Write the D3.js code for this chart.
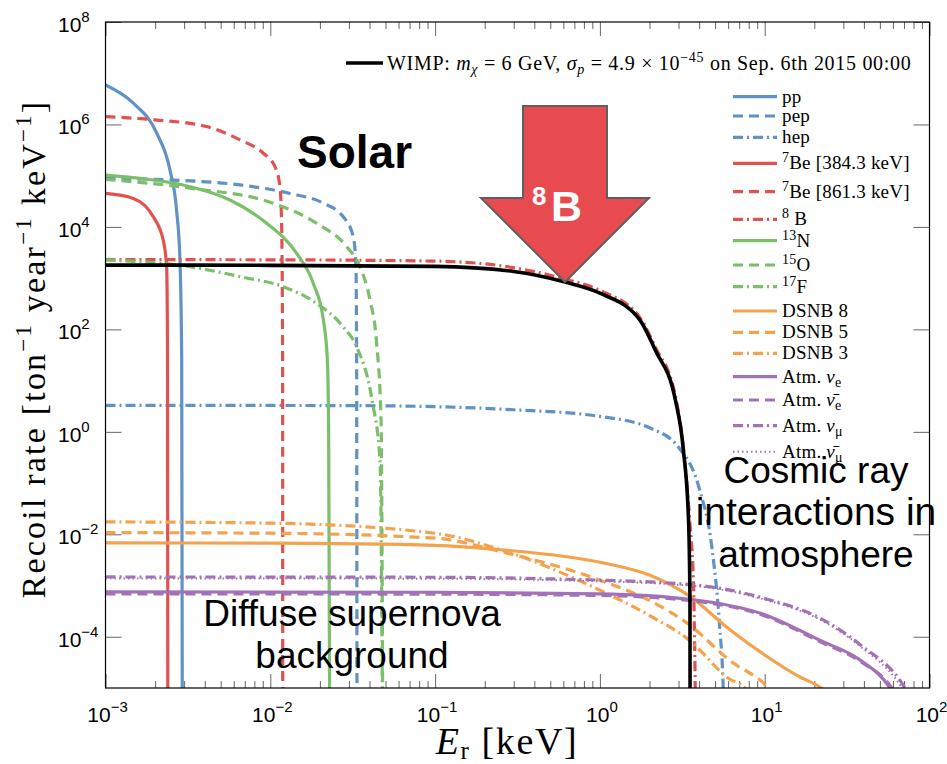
<!DOCTYPE html>
<html>
<head>
<meta charset="utf-8">
<script src="https://cdn.jsdelivr.net/npm/d3@7/dist/d3.min.js"></script>
<style>
  html, body { margin: 0; padding: 0; background: #fff; }
  svg { display: block; }
</style>
</head>
<body>
<svg id="chart" width="947" height="764"></svg>
<script>
// Neutrino-floor recoil spectra: [recoil energy keV, rate ton^-1 yr^-1 keV^-1]
const pp       = [[1e-3,5.9e6],[1.475e-3,2.6e6],[2.05e-3,6.7e5],[2.46e-3,1.3e5],[2.7e-3,2.1e4],[2.83e-3,2.3e3],[2.9e-3,25],[2.93e-3,1e-7]];
const pep      = [[1e-3,8.9e4],[2.58e-3,8.2e4],[6.55e-3,6.6e4],[1.317e-2,4.5e4],[2.1e-2,2.9e4],[2.77e-2,1.58e4],[3.19e-2,6.4e3],[3.31e-2,1.67e3],[3.34e-2,25],[3.36e-2,1e-7]];
const hep      = [[1e-3,3.3],[0.03,3.25],[0.1,3.1],[0.3,2.7],[1,2.0],[2,1.2],[3,0.5],[4,0.08],[4.8,5e-3],[5.3,2e-4],[5.6,1e-5],[5.8,1e-7]];
const be7a     = [[1e-3,4.5e4],[1.475e-3,3.6e4],[1.95e-3,1.58e4],[2.24e-3,5.5e3],[2.35e-3,1.67e3],[2.38e-3,25],[2.39e-3,1e-7]];
const be7b     = [[1e-3,1.42e6],[2.05e-3,1.22e6],[4.11e-3,9.1e5],[6.55e-3,5.0e5],[9.07e-3,2.74e5],[1.068e-2,1.5e5],[1.145e-2,6.1e4],[1.172e-2,1.0e4],[1.188e-2,25],[1.19e-2,1e-7]];
const b8       = [[1e-3,2.3e3],[0.01,2.28e3],[0.1,2.15e3],[0.3,1.6e3],[0.614,9.6e2],[1,5.8e2],[1.75,1.7e2],[2.17,45],[2.87,5],[3.21,0.5],[3.5,0.02],[3.7,1e-3],[3.85,1e-7]];
const n13      = [[1e-3,1.03e5],[1.62e-3,8.9e4],[3.26e-3,6.1e4],[5.69e-3,3.35e4],[9.51e-3,1.175e4],[1.445e-2,3.05e3],[1.824e-2,7.9e2],[2.1e-2,1.52e2],[2.22e-2,25],[2.26e-2,1],[2.3e-2,1e-7]];
const o15      = [[1e-3,8.5e4],[3.26e-3,5.7e4],[1.04e-2,2.9e4],[1.913e-2,1.175e4],[2.91e-2,4.1e3],[3.5e-2,1.67e3],[4.03e-2,3.7e2],[4.42e-2,53],[4.7e-2,1.7],[4.83e-2,1e-7]];
const f17      = [[1e-3,2.26e3],[3.26e-3,1.67e3],[6.55e-3,1.07e3],[1.2e-2,6.8e2],[1.913e-2,3.2e2],[2.77e-2,1.12e2],[3.34e-2,46],[4.14e-2,4.2],[4.63e-2,0.28],[4.83e-2,1e-7]];
const dsnb8    = [[1e-3,6.8e-3],[0.01,6.7e-3],[0.1,6.1e-3],[0.25,5.0e-3],[1,2.85e-3],[2,1.6e-3],[3.5,6.2e-4],[6.1,1.4e-4],[10,4.4e-5],[16,1.7e-5],[22,1e-5],[25,7e-6]];
const dsnb5    = [[1e-3,1.08e-2],[0.01,1.05e-2],[0.1,8.4e-3],[0.25,4.6e-3],[1,1.27e-3],[2,5.1e-4],[3.5,1.7e-4],[6.1,3.5e-5],[10.5,1e-5],[11.5,7e-6]];
const dsnb3    = [[1e-3,1.75e-2],[0.01,1.65e-2],[0.1,1.05e-2],[0.25,5e-3],[1,8.1e-4],[2,2.6e-4],[3.5,8.5e-5],[6.1,1.5e-5],[7.6,1e-5],[8.2,7e-6]];
const atmNuE   = [[1e-3,7.5e-4],[0.1,7.4e-4],[1,6.9e-4],[3.5,5.4e-4],[10,2.7e-4],[21.7,8.5e-5],[38,3.5e-5],[57.5,1e-5],[65,5e-6]];
const atmNuEb  = [[1e-3,6.9e-4],[0.1,6.8e-4],[1,6.4e-4],[3.5,5.1e-4],[10,2.55e-4],[21.7,8e-5],[38,3.3e-5],[59,1e-5],[67,5e-6]];
const atmNuMu  = [[1e-3,1.47e-3],[0.1,1.45e-3],[0.5,1.35e-3],[3.5,1.05e-3],[10,5.6e-4],[21.7,2.3e-4],[38,7e-5],[71,1e-5],[80,5e-6]];
const atmNuMub = [[1e-3,1.38e-3],[0.1,1.36e-3],[0.5,1.28e-3],[3.5,1.0e-3],[10,5.3e-4],[21.7,2.15e-4],[38,6.5e-5],[68,1e-5],[77,5e-6]];
const wimp     = [[1e-3,1.8e3],[0.01,1.78e3],[0.1,1.7e3],[0.3,1.35e3],[0.614,8.4e2],[1,5.1e2],[1.75,1.52e2],[2.17,39],[2.87,4.2],[3.21,0.44],[3.45,0.019],[3.52,5e-4],[3.53,1e-7]];

// Axis ticks
const xTickExps = [-3, -2, -1, 0, 1, 2];
const yTickExps = [8, 6, 4, 2, 0, -2, -4];

// Series labels (segments: plain, sup, sub, it)
const seriesNames = [
  [["pp"]],
  [["pep"]],
  [["hep"]],
  [["7","sup"],["Be [384.3 keV]"]],
  [["7","sup"],["Be [861.3 keV]"]],
  [["8","sup"],["  B"]],
  [["13","sup"],["N"]],
  [["15","sup"],["O"]],
  [["17","sup"],["F"]],
  [["DSNB 8"]],
  [["DSNB 5"]],
  [["DSNB 3"]],
  [["Atm.  "],["ν","it"],["e","sub"]],
  [["Atm.  "],["ν\u0304","it"],["e","sub"]],
  [["Atm.  "],["ν","it"],["μ","sub"]],
  [["Atm.  "],["ν\u0304","it"],["μ","sub"]]
];

const BLUE = "#6092c5", RED = "#e0514f", GREEN = "#7bbf6b", ORANGE = "#f4a24c", PURPLE = "#a271b7";
const DASH = "10,6", DASHDOT = "10,4,2,4", DOT = "1.5,3";

const series = [
  {data: pp,       color: BLUE,   dash: null},
  {data: pep,      color: BLUE,   dash: DASH},
  {data: hep,      color: BLUE,   dash: DASHDOT},
  {data: be7a,     color: RED,    dash: null},
  {data: be7b,     color: RED,    dash: DASH},
  {data: b8,       color: RED,    dash: DASHDOT},
  {data: n13,      color: GREEN,  dash: null},
  {data: o15,      color: GREEN,  dash: DASH},
  {data: f17,      color: GREEN,  dash: DASHDOT},
  {data: dsnb8,    color: ORANGE, dash: null},
  {data: dsnb5,    color: ORANGE, dash: DASH},
  {data: dsnb3,    color: ORANGE, dash: DASHDOT},
  {data: atmNuE,   color: PURPLE, dash: null},
  {data: atmNuEb,  color: PURPLE, dash: DASH},
  {data: atmNuMu,  color: PURPLE, dash: DASHDOT},
  {data: atmNuMub, color: PURPLE, dash: DOT}
];
series.forEach((s, i) => s.label = seriesNames[i]);

const svg = d3.select("#chart");
const plot = {left: 105.5, right: 929.5, top: 22, bottom: 688};

const x = d3.scaleLog().domain([1e-3, 1e2]).range([plot.left, plot.right]);
const y = d3.scaleLog().domain([1e-5, 1e8]).range([plot.bottom, plot.top]);

svg.append("clipPath").attr("id", "clip")
  .append("rect").attr("x", plot.left).attr("y", plot.top)
  .attr("width", plot.right - plot.left).attr("height", plot.bottom - plot.top);

// Ticks
const tickColor = "#666";
const minorX = [];
for (let e = -3; e < 2; e++) for (let m = 2; m <= 9; m++) minorX.push(m * Math.pow(10, e));
const majorX = xTickExps.map(e => Math.pow(10, e));

function styleTicks(g) {
  g.select(".domain").remove();
  g.selectAll("line").attr("stroke", tickColor);
}
svg.append("g").attr("transform", `translate(0,${plot.bottom})`)
  .call(d3.axisBottom(x).tickValues(majorX).tickSize(-14).tickFormat("")).call(styleTicks);
svg.append("g").attr("transform", `translate(0,${plot.bottom})`)
  .call(d3.axisBottom(x).tickValues(minorX).tickSize(-7).tickFormat("")).call(styleTicks);
svg.append("g").attr("transform", `translate(0,${plot.top})`)
  .call(d3.axisTop(x).tickValues(majorX).tickSize(-14).tickFormat("")).call(styleTicks);
svg.append("g").attr("transform", `translate(0,${plot.top})`)
  .call(d3.axisTop(x).tickValues(minorX).tickSize(-7).tickFormat("")).call(styleTicks);

const majorY = yTickExps.map(e => Math.pow(10, e));
svg.append("g").attr("transform", `translate(${plot.left},0)`)
  .call(d3.axisLeft(y).tickValues(majorY).tickSize(-16).tickFormat("")).call(styleTicks);
svg.append("g").attr("transform", `translate(${plot.right},0)`)
  .call(d3.axisRight(y).tickValues(majorY).tickSize(-16).tickFormat("")).call(styleTicks);

// Tick labels: 10 with superscript exponent
const sans = "'Liberation Sans', Arial, sans-serif";
function powerLabel(g, e, px, py, anchor) {
  const t = g.append("text").attr("x", px).attr("y", py)
    .attr("font-family", sans).attr("font-size", 21).attr("text-anchor", anchor).attr("fill", "#000");
  t.append("tspan").text("10");
  t.append("tspan").attr("dy", -10).attr("font-size", 15).text(String(e).replace("-", "\u2212"));
}
const labG = svg.append("g");
xTickExps.forEach(e => powerLabel(labG, e, x(Math.pow(10, e)) + 2, 722, "middle"));
yTickExps.forEach(e => powerLabel(labG, e, 58, y(Math.pow(10, e)) + 10, "start"));

// Curves
const line = d3.line()
  .x(d => x(d[0]))
  .y(d => y(d[1]))
  .curve(d3.curveMonotoneX);

const curves = svg.append("g").attr("clip-path", "url(#clip)");
series.forEach(s => {
  curves.append("path").datum(s.data)
    .attr("d", line)
    .attr("fill", "none")
    .attr("stroke", s.color)
    .attr("stroke-width", s.dash === DOT ? 2 : 3.2)
    .attr("stroke-dasharray", s.dash);
});
curves.append("path").datum(wimp)
  .attr("d", line).attr("fill", "none").attr("stroke", "#000").attr("stroke-width", 3.6);

// Frame
svg.append("rect").attr("x", plot.left).attr("y", plot.top)
  .attr("width", plot.right - plot.left).attr("height", plot.bottom - plot.top)
  .attr("fill", "none").attr("stroke", "#000").attr("stroke-width", 1.2);

// Legend
const serif = "'Liberation Serif', 'Times New Roman', serif";
const legRows = [96.7,116,137.3,163.3,191.7,219.3,240.7,265,286.7,311,332.3,353.3,376.7,400,425.7,451.7];
const leg = svg.append("g");
series.forEach((s, i) => {
  const ry = legRows[i];
  leg.append("line").attr("x1", 733).attr("x2", 777).attr("y1", ry).attr("y2", ry)
    .attr("stroke", s.color).attr("stroke-width", s.dash === DOT ? 2 : 3.2)
    .attr("stroke-dasharray", s.dash);
  const t = leg.append("text").attr("x", 782).attr("y", ry + 6)
    .attr("font-family", serif).attr("font-size", 19).attr("letter-spacing", 0.2).attr("fill", "#000");
  let shift = 0;
  s.label.forEach(([txt, kind]) => {
    const sp = t.append("tspan").text(txt);
    let target = 0;
    if (kind === "sup") { target = -7; sp.attr("font-size", 14); }
    if (kind === "sub") { target = 4; sp.attr("font-size", 14); }
    if (kind === "it") sp.attr("font-style", "italic");
    if (target !== shift) { sp.attr("dy", target - shift); shift = target; }
  });
});

// WIMP legend entry
leg.append("line").attr("x1", 346).attr("x2", 383).attr("y1", 63).attr("y2", 63)
  .attr("stroke", "#000").attr("stroke-width", 3.6);
{
  const t = leg.append("text").attr("x", 387).attr("y", 70)
    .attr("font-family", serif).attr("font-size", 20).attr("letter-spacing", 0.7).attr("fill", "#000");
  t.append("tspan").text("WIMP: ");
  t.append("tspan").attr("font-style", "italic").text("m");
  t.append("tspan").attr("font-style", "italic").attr("font-size", 14).attr("dy", 4).text("χ");
  t.append("tspan").attr("dy", -4).text(" = 6 GeV, ");
  t.append("tspan").attr("font-style", "italic").text("σ");
  t.append("tspan").attr("font-style", "italic").attr("font-size", 14).attr("dy", 4).text("p");
  t.append("tspan").attr("dy", -4).text(" = 4.9 × 10");
  t.append("tspan").attr("font-size", 14).attr("dy", -8).text("−45");
  t.append("tspan").attr("dy", 8).text(" on Sep.  6th 2015 00:00");
}

// Axis titles
svg.append("text").attr("transform", "translate(45,349) rotate(-90)")
  .attr("text-anchor", "middle").attr("font-family", serif).attr("font-size", 34)
  .attr("letter-spacing", 2.2)
  .call(t => {
    t.append("tspan").text("Recoil rate [ton");
    t.append("tspan").attr("font-size", 23).attr("dy", -14).text("−1");
    t.append("tspan").attr("dy", 14).text(" year");
    t.append("tspan").attr("font-size", 23).attr("dy", -14).text("−1");
    t.append("tspan").attr("dy", 14).text(" keV");
    t.append("tspan").attr("font-size", 23).attr("dy", -14).text("−1");
    t.append("tspan").attr("dy", 14).text("]");
  });
svg.append("text").attr("x", 507).attr("y", 754)
  .attr("text-anchor", "middle").attr("font-family", serif).attr("font-size", 38)
  .attr("letter-spacing", 1.6)
  .call(t => {
    t.append("tspan").attr("font-style", "italic").text("E");
    t.append("tspan").attr("font-size", 25).attr("dy", 5).text("r");
    t.append("tspan").attr("dy", -5).text(" [keV]");
  });

// Annotations
const tip = [x(0.614), y(840)];
const arrowPts = [
  [tip[0] - 42, 106], [tip[0] + 42, 106], [tip[0] + 42, 198], [tip[0] + 84, 198],
  tip, [tip[0] - 84, 198], [tip[0] - 42, 198]
];
svg.append("polygon").attr("points", arrowPts.map(p => p.join(",")).join(" "))
  .attr("fill", "#e84b4f").attr("stroke", "#5f5f5f").attr("stroke-width", 2);
svg.append("text").attr("x", 551).attr("y", 221).attr("font-family", sans)
  .attr("font-size", 43).attr("font-weight", "bold").attr("fill", "#fff").text("B");
svg.append("text").attr("x", 532).attr("y", 205).attr("font-family", sans)
  .attr("font-size", 26).attr("font-weight", "bold").attr("fill", "#fff").text("8");

svg.append("text").attr("x", 297).attr("y", 168).attr("font-family", sans)
  .attr("font-size", 46).attr("font-weight", "bold").text("Solar");

const annoSize = 37;
[["Cosmic ray", 483, 37], ["interactions in", 525, 39], ["atmosphere", 567, 37]].forEach(([s, yy, fs]) => {
  svg.append("text").attr("x", 816).attr("y", yy).attr("text-anchor", "middle")
    .attr("font-family", sans).attr("font-size", fs).text(s);
});
[["Diffuse supernova", 626], ["background", 668]].forEach(([s, yy]) => {
  svg.append("text").attr("x", 352).attr("y", yy).attr("text-anchor", "middle")
    .attr("font-family", sans).attr("font-size", annoSize).text(s);
});
</script>
</body>
</html>
